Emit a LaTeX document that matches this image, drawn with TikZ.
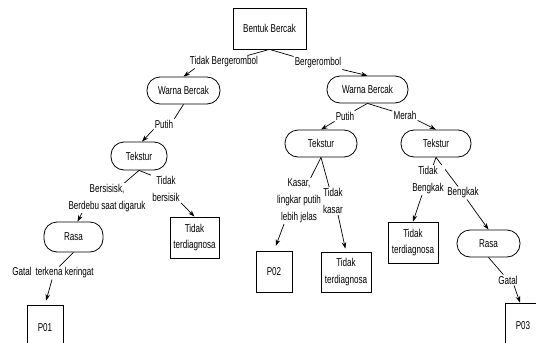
\documentclass[tikz,border=0pt]{standalone}
\usepackage{fontspec}
\setmainfont[FakeStretch=0.71]{Liberation Sans}
\usetikzlibrary{arrows.meta,backgrounds}

\tikzset{
  every node/.style={font=\fontsize{11.4}{16.8}\selectfont},
  box/.style={draw, line width=0.8pt, rectangle, align=center, inner sep=0pt},
  pill/.style={draw, line width=0.8pt, rectangle, rounded corners=13pt, align=center, inner sep=0pt, minimum height=27pt},
  lbl/.style={fill=white, inner sep=1pt, align=center},
  edge/.style={line width=0.7pt},
  arr/.style={line width=0.7pt, -{Stealth[length=6.5pt,width=4.5pt]}}
}

\begin{document}
\begin{tikzpicture}[x=1pt, y=-1pt]
\useasboundingbox (0,0) rectangle (536,343);
\clip (0,0) rectangle (536,343);

% decision nodes
\node[box, minimum width=73pt, minimum height=41pt] (bb) at (269.5,28.5) {Bentuk Bercak};
\node[pill, minimum width=73pt] (wl) at (183.5,90.5) {Warna Bercak};
\node[pill, minimum width=81pt] (wr) at (367.5,89.5) {Warna Bercak};
\node[pill, minimum width=56pt, minimum height=28pt] (tekL) at (139,156) {Tekstur};
\node[pill, minimum width=72pt] (tekM) at (321,143.5) {Tekstur};
\node[pill, minimum width=70pt] (tekR) at (436,143.5) {Tekstur};
\node[pill, minimum width=59pt, minimum height=30pt] (rl) at (73.5,237) {Rasa};
\node[pill, minimum width=63pt] (rr) at (488.5,243.5) {Rasa};

% leaves
\node[box, minimum width=49pt, minimum height=41pt] (td1) at (194.5,237.5) {Tidak\\terdiagnosa};
\node[box, minimum width=50pt, minimum height=40pt] (td2) at (346,272) {Tidak\\terdiagnosa};
\node[box, minimum width=50pt, minimum height=41pt] (td3) at (413,242.5) {Tidak\\terdiagnosa};
\node[box, minimum width=36pt, minimum height=45pt] (p1) at (45,327.5) {P01};
\node[box, minimum width=36pt, minimum height=41pt] (p2) at (274,271.5) {P02};
\node[box, minimum width=36pt, minimum height=45pt] (p3) at (523,325.5) {P03};

% branch labels
\node[lbl] (l1) at (224,62) {Tidak Bergerombol};
\node[lbl] (l2) at (318,63) {Bergerombol};
\node[lbl] (lp1) at (164,124) {Putih};
\node[lbl] (lp2) at (345,116) {Putih};
\node[lbl] (lm) at (405,115) {Merah};
\node[lbl] (ltb) at (166,189) {Tidak\\bersisik};
\node[lbl] (lbd) at (107,198) {Bersisisk,\\Berdebu saat digaruk};
\node[lbl] (lgk) at (53,273) {Gatal\hspace{1.5pt} terkena keringat};
\node[lbl] (lkl) at (299,201) {Kasar,\\lingkar putih\\lebih jelas};
\node[lbl] (ltk) at (333,201) {Tidak\\kasar};
\node[lbl] (ltbk) at (428,180) {Tidak\\Bengkak};
\node[lbl] (lbk) at (463,193) {Bengkak};
\node[lbl] (lg) at (508,280) {Gatal};

% connectors, drawn beneath the labels
\begin{scope}[on background layer]
  \draw[edge] (bb.south) -- (l1);
  \draw[arr] ([xshift=6pt]l1.south west) -- (wl.north);
  \draw[edge] (bb.south) -- (l2.north west);
  \draw[arr] (l2.south east) -- (wr.north);

  \draw[edge] (wl.south) -- (lp1.north east);
  \draw[arr] (lp1.south west) -- ([xshift=3pt]tekL.north);
  \draw[edge] (wr.south) -- (lp2);
  \draw[arr] (lp2.south west) -- (tekM.north);
  \draw[edge] (wr.south) -- (lm);
  \draw[arr] (lm.south east) -- (tekR.north);

  \draw[edge] (tekL.south) -- (ltb.north west);
  \draw[arr] (ltb.south east) -- (td1.north);
  \draw[edge] (tekL.south) -- (lbd);
  \draw[arr] ([xshift=-25pt]lbd.south) -- ([xshift=4pt]rl.north);
  \draw[edge] (rl.south) -- (lgk);
  \draw[arr, shorten >=4pt] ([xshift=-1pt]lgk.south) -- (p1.north);

  \draw[edge] (tekM.south) -- (lkl);
  \draw[arr, shorten >=5pt] ([xshift=-15pt]lkl.south) -- (p2.north);
  \draw[edge] (tekM.south) -- (ltk);
  \draw[arr, shorten >=3pt] ([xshift=5pt]ltk.south) -- (td2.north);

  \draw[edge] (tekR.south) -- (ltbk);
  \draw[arr] ([xshift=-6pt]ltbk.south) -- (td3.north);
  \draw[edge] (tekR.south) -- (lbk);
  \draw[arr] ([xshift=4pt]lbk.south) -- (rr.north);
  \draw[edge] (rr.south) -- (lg);
  \draw[arr] ([xshift=6pt]lg.south) -- ([xshift=-3pt]p3.north);
\end{scope}
\end{tikzpicture}
\end{document}
